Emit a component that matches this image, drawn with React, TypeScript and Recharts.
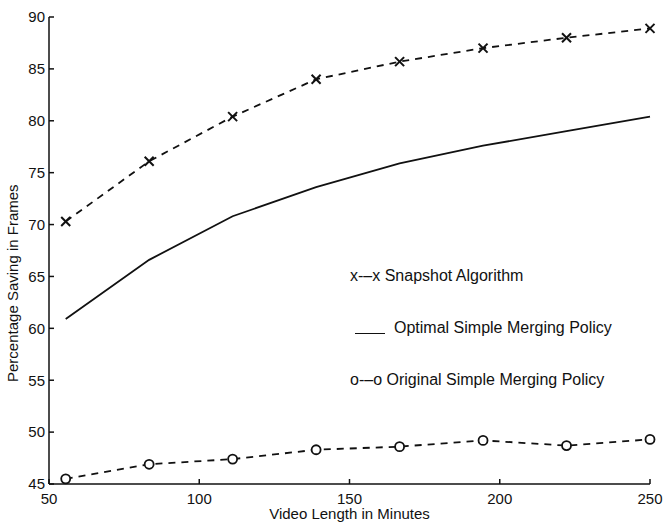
import React from "react"
import { Line, LineChart, XAxis, YAxis } from "recharts"

// video lengths (minutes) at which the policies were evaluated
const minutes = [55.56, 83.33, 111.11, 138.89, 166.67, 194.44, 222.22, 250]
const snapshot = [70.3, 76.1, 80.4, 84.0, 85.7, 87.0, 88.0, 88.9]
const optimal = [60.9, 66.6, 70.8, 73.6, 75.9, 77.6, 79.0, 80.4]
const original = [45.5, 46.9, 47.4, 48.3, 48.6, 49.2, 48.7, 49.3]

const xTicks = [50, 100, 150, 200, 250]
const yTicks = [45, 50, 55, 60, 65, 70, 75, 80, 85, 90]

const legendLabels = [
  "x-–x Snapshot Algorithm",
  "Optimal Simple Merging Policy",
  "o-–o Original Simple Merging Policy",
]

const data = minutes.map((m, i) => ({
  minutes: m,
  snapshot: snapshot[i],
  optimal: optimal[i],
  original: original[i],
}))

const FONT = "'Liberation Sans', Arial, Helvetica, sans-serif"
const INK = "#111"

const CrossDot = (props: any) => {
  const { cx, cy } = props
  if (cx == null || cy == null) return null
  const s = 4.5
  return (
    <g stroke={INK} strokeWidth={2}>
      <line x1={cx - s} y1={cy - s} x2={cx + s} y2={cy + s} />
      <line x1={cx - s} y1={cy + s} x2={cx + s} y2={cy - s} />
    </g>
  )
}

const RingDot = (props: any) => {
  const { cx, cy } = props
  if (cx == null || cy == null) return null
  return <circle cx={cx} cy={cy} r={4.5} fill="#fff" stroke={INK} strokeWidth={1.8} />
}

// rotated y-axis title, sitting a little below the middle of the axis
const YTitle = (props: any) => {
  const { viewBox } = props
  if (!viewBox) return null
  const x = viewBox.x + 18
  const y = viewBox.y + viewBox.height * 0.57
  return (
    <text
      x={x}
      y={y}
      transform={`rotate(-90 ${x} ${y})`}
      textAnchor="middle"
      fill={INK}
      fontSize={15}
      fontFamily={FONT}
    >
      Percentage Saving in Frames
    </text>
  )
}

const legendRow: React.CSSProperties = {
  height: 52,
  display: "flex",
  alignItems: "center",
  whiteSpace: "nowrap",
}

// text legend placed inside the plot, one row per 5 units of the y scale
const PolicyLegend = () => (
  <div
    style={{
      position: "absolute",
      left: 350,
      top: 250,
      fontFamily: FONT,
      fontSize: 16,
      color: INK,
    }}
  >
    <div style={legendRow}>{legendLabels[0]}</div>
    <div style={legendRow}>
      <span
        style={{
          display: "inline-block",
          width: 30,
          borderBottom: `1.5px solid ${INK}`,
          margin: "10px 9px 0 5px",
        }}
      />
      {legendLabels[1]}
    </div>
    <div style={legendRow}>{legendLabels[2]}</div>
  </div>
)

export default function App() {
  return (
    <div style={{ position: "absolute", left: 0, top: 0, width: 663, height: 525, background: "#fff" }}>
      <LineChart
        width={663}
        height={525}
        data={data}
        margin={{ top: 17, right: 13, left: 0, bottom: 0 }}
      >
        <XAxis
          dataKey="minutes"
          type="number"
          domain={[50, 250]}
          ticks={xTicks}
          height={41}
          tickSize={-5}
          tickMargin={14}
          stroke={INK}
          strokeWidth={1.5}
          tick={{ fill: INK, fontSize: 15, fontFamily: FONT }}
          label={{
            value: "Video Length in Minutes",
            position: "insideBottom",
            offset: 6,
            fill: INK,
            fontSize: 15,
            fontFamily: FONT,
          }}
        />
        <YAxis
          type="number"
          domain={[45, 90]}
          ticks={yTicks}
          width={49}
          tickSize={-5}
          tickMargin={9}
          stroke={INK}
          strokeWidth={1.5}
          tick={{ fill: INK, fontSize: 15, fontFamily: FONT }}
          label={<YTitle />}
        />
        <Line
          dataKey="snapshot"
          type="linear"
          stroke={INK}
          strokeWidth={1.8}
          strokeDasharray="7 6"
          dot={<CrossDot />}
          activeDot={false}
          isAnimationActive={false}
        />
        <Line
          dataKey="optimal"
          type="linear"
          stroke={INK}
          strokeWidth={1.8}
          dot={false}
          activeDot={false}
          isAnimationActive={false}
        />
        <Line
          dataKey="original"
          type="linear"
          stroke={INK}
          strokeWidth={1.8}
          strokeDasharray="7 6"
          dot={<RingDot />}
          activeDot={false}
          isAnimationActive={false}
        />
      </LineChart>
      <PolicyLegend />
    </div>
  )
}
